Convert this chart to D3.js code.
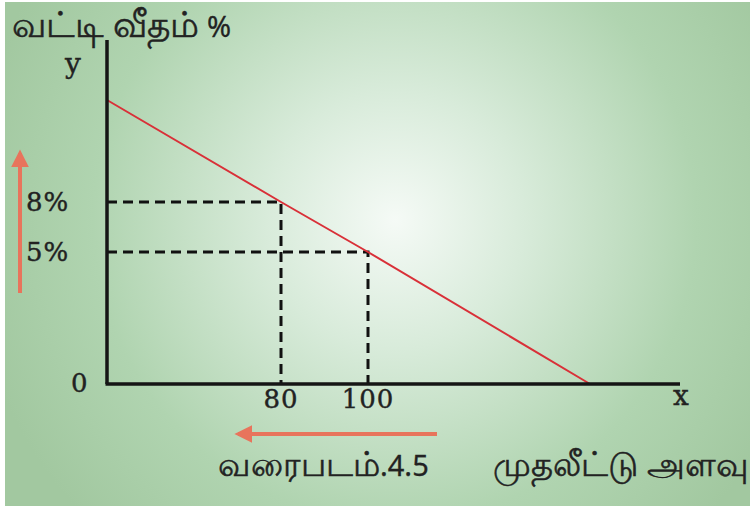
<!DOCTYPE html>
<html>
<head>
<meta charset="utf-8">
<script src="https://cdn.jsdelivr.net/npm/d3@7"></script>
<style>
  html, body { margin: 0; padding: 0; background: #fff; }
  svg { display: block; }
</style>
</head>
<body>
<svg id="chart" width="750" height="508"></svg>
<script>
// Interest rate vs investment (diagram, not to scale)
const xKnots = [0, 80, 100, 130, 142];    // x data values used as scale breakpoints
const yKnots = [0, 5, 8, 14, 17];         // y data values used as scale breakpoints
const xTicks = [80, 100];
const yTicks = [8, 5];
const lineX = [0, 80, 100, 130];          // demand line
const lineY = [14, 8, 5, 0];
const guideX = [80, 100];                 // dashed guides
const guideY = [8, 5];

const yTitle = 'வட்டி வீதம்';
const xTitle = 'முதலீட்டு அளவு';
const caption = 'வரைபடம்';
const captionNum = '.4.5';

const W = 750, H = 508;
const svg = d3.select('#chart');

// background
const defs = svg.append('defs');
const grad = defs.append('radialGradient').attr('id', 'bg')
    .attr('gradientUnits', 'userSpaceOnUse')
    .attr('cx', 395).attr('cy', 220).attr('r', 430);
grad.append('stop').attr('offset', '0%').attr('stop-color', '#f5faf6');
grad.append('stop').attr('offset', '30%').attr('stop-color', '#d8ebda');
grad.append('stop').attr('offset', '70%').attr('stop-color', '#b0d4b0');
grad.append('stop').attr('offset', '100%').attr('stop-color', '#a2c8a0');
svg.append('rect').attr('x', 5).attr('y', 2).attr('width', W - 5).attr('height', H - 4).attr('fill', 'url(#bg)');

// scales (piecewise: the textbook drawing is not to scale)
const x = d3.scaleLinear().domain(xKnots).range([107, 281, 368, 590, 680]);
const y = d3.scaleLinear().domain(yKnots).range([384, 252, 202, 100, 40]);

const serif = '"DejaVu Serif", serif';
const sans = '"Noto Sans", "Liberation Sans", sans-serif';
const ink = '#222';

// dashed guides
guideX.forEach((gx, i) => {
  const gy = guideY[i];
  svg.append('path')
    .attr('d', `M${x(0)},${y(gy)}H${x(gx)}V${y(0)}`)
    .attr('fill', 'none').attr('stroke', '#111').attr('stroke-width', 3)
    .attr('stroke-dasharray', '10,6');
});

// demand line
svg.append('path')
  .datum(lineX.map((v, i) => [v, lineY[i]]))
  .attr('d', d3.line().x(d => x(d[0])).y(d => y(d[1])))
  .attr('fill', 'none').attr('stroke', '#d93038').attr('stroke-width', 2);

// axes
svg.append('line').attr('x1', x(0)).attr('x2', x(0)).attr('y1', y(17)).attr('y2', y(0))
  .attr('stroke', '#151515').attr('stroke-width', 3.5);
svg.append('line').attr('x1', x(0) - 1.5).attr('x2', x(142)).attr('y1', y(0)).attr('y2', y(0))
  .attr('stroke', '#151515').attr('stroke-width', 3.5);

// tick labels
function serifText(sel) {
  return sel.style('font-family', serif).attr('fill', ink)
    .attr('stroke', ink).attr('stroke-width', 0.4);
}
serifText(svg.selectAll('.xt').data(xTicks).enter().append('text'))
  .attr('x', d => x(d)).attr('y', 408).attr('text-anchor', 'middle')
  .style('font-size', '26px').style('letter-spacing', '1px')
  .text(d => d);
serifText(svg.selectAll('.yt').data(yTicks).enter().append('text'))
  .attr('x', 26).attr('y', d => y(d) + 9)
  .style('font-size', '26px').style('letter-spacing', '1px')
  .text(d => d + '%');
serifText(svg.append('text')).attr('x', 71).attr('y', 392)
  .style('font-size', '26px').text('0');
serifText(svg.append('text')).attr('x', 65).attr('y', 73)
  .style('font-size', '28px').text('y');
serifText(svg.append('text')).attr('x', 673).attr('y', 405)
  .style('font-size', '28px').text('x');

// titles (Tamil fallback font renders small, so it gets a larger size)
function tamilText(tx, ty, str, size, tail) {
  const t = svg.append('text').attr('x', tx).attr('y', ty)
    .style('font-family', sans).attr('fill', ink)
    .attr('stroke', ink).attr('stroke-width', 0.5);
  t.append('tspan').style('font-size', size + 'px').text(str);
  if (tail) t.append('tspan').style('font-size', '29px').attr('stroke-width', 0.3).text(tail);
  return t;
}
tamilText(12, 37, yTitle, 36, '  %');
tamilText(218, 476, caption, 34, captionNum);
tamilText(493, 476, xTitle, 34);

// orange arrows
const orange = '#e8745c';
defs.append('marker').attr('id', 'head').attr('viewBox', '0 0 10 10')
  .attr('refX', 8).attr('refY', 5).attr('markerWidth', 4.5).attr('markerHeight', 4.5)
  .attr('orient', 'auto-start-reverse')
  .append('path').attr('d', 'M0,0L10,5L0,10Z').attr('fill', orange);
svg.append('line').attr('x1', 20).attr('x2', 20).attr('y1', 293).attr('y2', 153)
  .attr('stroke', orange).attr('stroke-width', 4).attr('marker-end', 'url(#head)');
svg.append('line').attr('x1', 437).attr('x2', 238).attr('y1', 434).attr('y2', 434)
  .attr('stroke', orange).attr('stroke-width', 4).attr('marker-end', 'url(#head)');
</script>
</body>
</html>
